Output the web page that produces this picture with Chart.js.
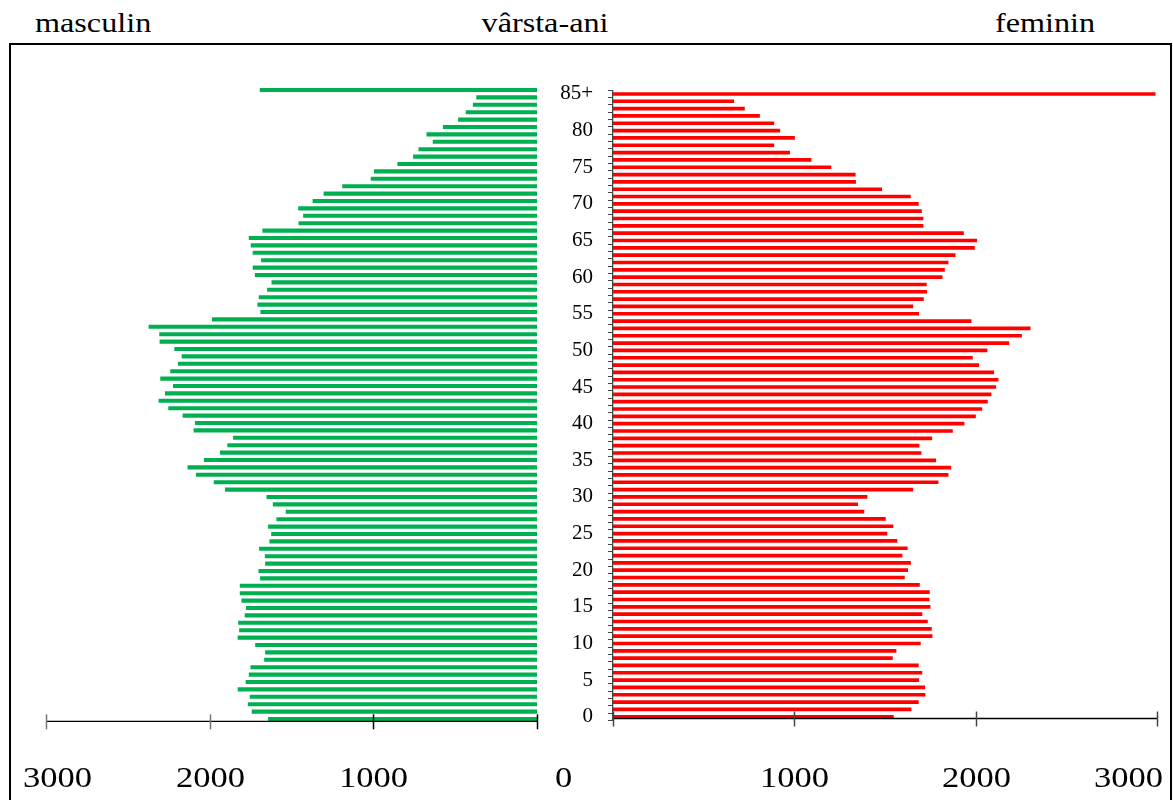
<!DOCTYPE html>
<html><head><meta charset="utf-8">
<script src="https://cdn.jsdelivr.net/npm/chart.js@4.4.0/dist/chart.umd.min.js"></script>
<style>
html,body{margin:0;padding:0;background:#fff;}
#page{position:relative;width:1173px;height:800px;overflow:hidden;background:#fff;font-family:"Liberation Serif","Times New Roman",serif;}
.t{position:absolute;top:9px;font-size:28px;line-height:28px;color:#000;white-space:nowrap;}
#frame{position:absolute;left:9px;top:43px;width:1159px;height:800px;border:2px solid #000;}
canvas{position:absolute;top:0;}
</style></head>
<body><div id="page">
<div id="frame"></div>
<div class="t" style="left:35px;transform-origin:left top;transform:scaleX(1.15)">masculin</div>
<div class="t" style="left:545px;transform:translateX(-50%) scaleX(1.15)">vârsta-ani</div>
<div class="t" style="left:1045px;transform:translateX(-50%) scaleX(1.15)">feminin</div>
<canvas id="cm" width="600" height="800" style="left:0"></canvas>
<canvas id="cf" width="613" height="800" style="left:560px"></canvas>
</div>
<script>
const ages = ['0','1','2','3','4','5','6','7','8','9','10','11','12','13','14','15','16','17','18','19','20','21','22','23','24','25','26','27','28','29','30','31','32','33','34','35','36','37','38','39','40','41','42','43','44','45','46','47','48','49','50','51','52','53','54','55','56','57','58','59','60','61','62','63','64','65','66','67','68','69','70','71','72','73','74','75','76','77','78','79','80','81','82','83','84','85+'];
const masculin = [1641,1741,1765,1753,1827,1778,1759,1749,1665,1659,
1720,1827,1818,1824,1784,1776,1804,1814,1814,1690,
1700,1659,1661,1696,1633,1622,1641,1590,1533,1612,
1651,1904,1973,2082,2133,2033,1935,1890,1855,2096,
2088,2163,2251,2310,2271,2222,2300,2239,2192,2169,
2214,2304,2306,2371,1984,1688,1706,1698,1647,1620,
1722,1735,1684,1735,1747,1759,1676,1455,1427,1457,
1369,1302,1188,1014,994,851,755,722,635,673,
573,480,433,390,369,1692];
const feminin = [1546,1644,1684,1721,1719,1686,1704,1684,1541,1561,
1695,1760,1756,1734,1704,1749,1743,1745,1690,1607,
1625,1641,1594,1623,1566,1511,1544,1502,1384,1349,
1401,1653,1793,1848,1863,1780,1699,1688,1758,1872,
1936,1999,2034,2065,2085,2111,2124,2100,2017,1982,
2063,2183,2253,2301,1975,1686,1653,1712,1730,1728,
1815,1828,1848,1887,1993,2006,1933,1710,1710,1701,
1684,1640,1482,1338,1336,1202,1093,974,887,1001,
920,887,808,725,666,2990];
const xTickValues = [0,1000,2000,3000];
const xTickLabels = ['0','1000','2000','3000'];

function xAxisPlugin(o){
  return {id:'xaxisdraw', afterDraw(chart){
    const ctx=chart.ctx, sc=chart.scales.x, y=chart.chartArea.bottom+o.dy;
    ctx.save();
    ctx.strokeStyle='#000'; ctx.lineWidth=1.3;
    ctx.beginPath(); ctx.moveTo(sc.getPixelForValue(0),y); ctx.lineTo(sc.getPixelForValue(3000),y); ctx.stroke();
    xTickValues.forEach((v,i)=>{
      const x=Math.round(sc.getPixelForValue(v))+0.5;
      ctx.strokeStyle=o.tickColors[i]; ctx.lineWidth=1.5;
      ctx.beginPath(); ctx.moveTo(x,y-7); ctx.lineTo(x,y+8); ctx.stroke();
      const off=o.labelOffsets[i];
      if(off===null) return;
      ctx.save();
      ctx.translate(x+off,787); ctx.scale(1.15,1);
      ctx.fillStyle='#000'; ctx.font='30px "Liberation Serif", "Times New Roman", serif';
      ctx.textAlign='center'; ctx.textBaseline='alphabetic';
      ctx.fillText(xTickLabels[i],0,0);
      ctx.restore();
    });
    ctx.restore();
  }};
}

const common = {
  responsive:false, animation:false, devicePixelRatio:1, indexAxis:'y',
  plugins:{legend:{display:false}, tooltip:{enabled:false}}
};

new Chart(document.getElementById('cm'), {
  type:'bar',
  data:{labels:ages, datasets:[{data:masculin, backgroundColor:'#00B050', borderWidth:0, barThickness:3.4}]},
  options:Object.assign({}, common, {
    layout:{padding:{left:46, right:63, top:86.3, bottom:77.3}},
    scales:{
      x:{type:'linear', min:0, max:3000, reverse:true, display:false},
      y:{type:'category', reverse:true, display:false}
    }
  }),
  plugins:[xAxisPlugin({dy:-1.4, tickColors:['#000','#000','#777','#777'], labelOffsets:[26,0,0,11]})]
});

new Chart(document.getElementById('cf'), {
  type:'bar',
  data:{labels:ages, datasets:[{data:feminin, backgroundColor:'#FF0000', borderWidth:0, barThickness:3.0}]},
  options:Object.assign({}, common, {
    layout:{padding:{left:0, right:16, top:90.3, bottom:79.6}},
    scales:{
      x:{type:'linear', min:0, max:3000, display:false},
      y:{type:'category', reverse:true, display:true,
         afterFit(s){ s.width=53; },
         border:{display:true, color:'#444', width:1.3},
         grid:{display:true, drawOnChartArea:false, drawTicks:true, tickLength:5, color:'#444', offset:true},
         ticks:{autoSkip:false, padding:15, color:'#000', font:{family:'"Liberation Serif", "Times New Roman", serif', size:21},
           callback(v,i){ const l=ages[i]; return (i%5===0 || l==='85+') ? l : ''; }}
      }
    }
  }),
  plugins:[xAxisPlugin({dy:-1.9, tickColors:['#444','#444','#444','#444'], labelOffsets:[null,0,0,-29]})]
});
</script>
</body></html>
